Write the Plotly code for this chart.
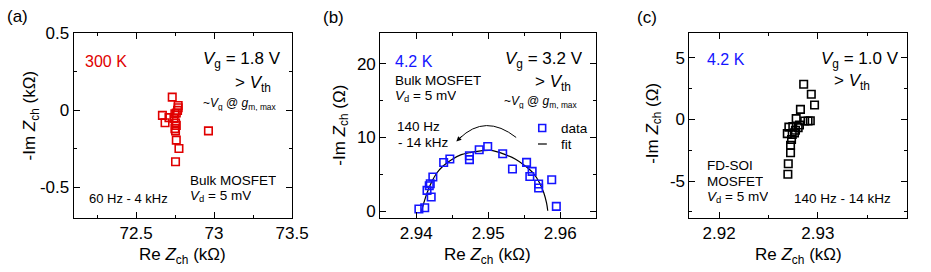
import plotly.graph_objects as go

# ---------------- data ----------------
# (a) 300 K bulk MOSFET, Re Z (kOhm) / -Im Z (kOhm)
a_re = [72.732, 72.770, 72.770, 72.766, 72.758, 72.749, 72.669, 72.711, 72.686,
        72.743, 72.753, 72.758, 72.749, 72.753, 72.758, 72.775, 72.753, 72.964]
a_im = [0.084, 0.030, 0.015, -0.002, -0.019, -0.024, -0.034, -0.049, -0.082,
        -0.056, -0.084, -0.099, -0.120, -0.135, -0.195, -0.249, -0.335, -0.135]

# (b) 4.2 K bulk MOSFET, Re Z (kOhm) / -Im Z (Ohm)
b_re = [2.94037, 2.94118, 2.94208, 2.94150, 2.94181, 2.94195, 2.94231, 2.94381,
        2.94467, 2.94739, 2.94739, 2.94875, 2.94993, 2.95201, 2.95337, 2.95533,
        2.95610, 2.95578, 2.95700, 2.95700, 2.95882, 2.95946]
b_im = [0.27, 0.45, 1.90, 2.80, 3.44, 3.71, 4.62, 6.60, 7.07, 7.52, 6.98, 8.33,
        8.78, 7.79, 5.71, 6.61, 5.39, 4.70, 3.67, 3.13, 4.26, 0.63]
b_fit_re = [2.94075, 2.94105, 2.94150, 2.94218, 2.94286, 2.94377, 2.94490, 2.94626,
            2.94762, 2.94921, 2.95034, 2.95102, 2.95238, 2.95374, 2.95510, 2.95623,
            2.95714, 2.95773, 2.95810, 2.95827]
b_fit_im = [0.04, 1.09, 2.45, 4.03, 5.17, 6.16, 6.98, 7.66, 7.97, 8.20, 8.24, 8.11,
            7.66, 7.07, 6.16, 5.17, 3.81, 2.45, 1.09, 0.04]

# (c) 4.2 K FD-SOI MOSFET, Re Z (kOhm) / -Im Z (Ohm)
c_re = [2.92856, 2.92933, 2.92966, 2.92823, 2.92780, 2.92866, 2.92900, 2.92923,
        2.92813, 2.92706, 2.92746, 2.92800, 2.92773, 2.92690, 2.92740, 2.92763,
        2.92733, 2.92723, 2.92723, 2.92700, 2.92696]
c_im = [2.85, 2.03, 1.16, 0.81, 0.06, -0.14, -0.14, -0.11, -0.46, -0.63, -0.59,
        -0.67, -0.89, -1.16, -1.22, -1.10, -1.63, -2.11, -2.71, -3.60, -4.45]

# ticks
a_xt = [72.5, 73, 73.5]; a_xl = ["72.5", "73", "73.5"]
a_yt = [-0.5, 0, 0.5]; a_yl = ["-0.5", "0", "0.5"]
b_xt = [2.94, 2.95, 2.96]; b_xl = ["2.94", "2.95", "2.96"]
b_yt = [0, 10, 20]; b_yl = ["0", "10", "20"]
c_xt = [2.92, 2.93]; c_xl = ["2.92", "2.93"]
c_yt = [-5, 0, 5]; c_yl = ["-5", "0", "5"]

RED = "#e00000"
BLUE = "#1414ff"
FONT = "Arial, Liberation Sans, sans-serif"

W, H = 931, 272
MT, MB = 33, 54
PH = H - MT - MB


def fx(p):
    return p / W


def fy(p):
    return (H - MB - p) / PH


fig = go.Figure()

mk = dict(symbol="square-open", size=7.5, line=dict(width=1.6))
fig.add_trace(go.Scatter(x=a_re, y=a_im, mode="markers", xaxis="x", yaxis="y",
                         marker=dict(color=RED, **mk), showlegend=False))
fig.add_trace(go.Scatter(x=b_fit_re, y=b_fit_im, mode="lines", xaxis="x2", yaxis="y2",
                         line=dict(color="black", width=1.2, shape="spline"), showlegend=False))
fig.add_trace(go.Scatter(x=b_re, y=b_im, mode="markers", xaxis="x2", yaxis="y2",
                         marker=dict(color=BLUE, **mk), showlegend=False))
fig.add_trace(go.Scatter(x=c_re, y=c_im, mode="markers", xaxis="x3", yaxis="y3",
                         marker=dict(color="black", **mk), showlegend=False))


def ax(domain, rng, tv, tt, mdt, anchor):
    return dict(domain=domain, range=rng, tickvals=tv, ticktext=tt, anchor=anchor,
                showline=True, linecolor="black", linewidth=1, mirror="ticks",
                ticks="inside", ticklen=6, tickcolor="black", tickwidth=1,
                showgrid=False, zeroline=False,
                tickfont=dict(size=17, color="black", family=FONT),
                minor=dict(dtick=mdt, ticks="inside", ticklen=3, tickcolor="black", showgrid=False))


da = [fx(75), fx(297.5)]
db = [fx(387.3), fx(607.3)]
dc = [fx(702.3), fx(923.7)]

fig.update_layout(
    width=W, height=H,
    margin=dict(l=0, r=0, t=MT, b=MB),
    paper_bgcolor="white", plot_bgcolor="white",
    font=dict(family=FONT, color="black"),
    xaxis=ax(da, [72.1, 73.5], a_xt, a_xl, 0.25, "y"),
    yaxis=ax([0, 1], [-0.7, 0.5], a_yt, a_yl, 0.25, "x"),
    xaxis2=ax(db, [2.935, 2.965], b_xt, b_xl, 0.005, "y2"),
    yaxis2=ax([0, 1], [-0.95, 24.2], b_yt, b_yl, 5, "x2"),
    xaxis3=ax(dc, [2.917, 2.939], c_xt, c_xl, 0.005, "y3"),
    yaxis3=ax([0, 1], [-8, 7], c_yt, c_yl, 2.5, "x3"),
)

anns = []


def txt(x, y, s, anchor="left", size=13.5, color="black", angle=0, h=None):
    d = dict(x=fx(x), y=fy(y), xref="paper", yref="paper", text=s, showarrow=False,
             xanchor=anchor, yanchor="middle", textangle=angle,
             font=dict(size=size, color=color, family=FONT))
    if h is not None:
        d["height"] = h
    anns.append(d)


VG = "<i>V</i><sub>g</sub>"
VTH = "> <i>V</i><sub>th</sub>"
VGM = "~<i>V</i><sub>g</sub> @ <i>g</i><sub>m, max</sub>"
VD = "<i>V</i><sub>d</sub> = 5 mV"
XT = "Re <i>Z</i><sub>ch</sub> (kΩ)"

# panel labels
txt(5, 16, "(a)", size=17)
txt(327, 17, "(b)", size=17)
txt(647, 17, "(c)", size=17)

# axis titles
txt(186, 256, XT, "center", 17)
txt(497, 256, XT, "center", 17)
txt(813, 256, XT, "center", 17)
txt(32, 115, "-Im <i>Z</i><sub>ch</sub> (kΩ)", "center", 17, angle=-90)
txt(347, 125, "-Im <i>Z</i><sub>ch</sub> (Ω)", "center", 17, angle=-90)
txt(666, 123, "-Im <i>Z</i><sub>ch</sub> (Ω)", "center", 17, angle=-90)

# panel (a)
txt(85, 61, "300 K", size=16, color=RED)
txt(288, 60, VG + " = 1.8 V", "right", 17, h=22)
txt(278, 84, VTH, "right", 17, h=20)
txt(284, 104, VGM, "right", 12, h=14)
txt(192, 180, "Bulk MOSFET", h=14)
txt(192, 196, VD, h=14)
txt(89, 198, "60 Hz - 4 kHz", size=13)

# panel (b)
txt(400, 61, "4.2 K", size=16, color=BLUE)
txt(596, 60, VG + " = 3.2 V", "right", 17, h=22)
txt(584, 83, VTH, "right", 17, h=20)
txt(591, 102, VGM, "right", 12, h=14)
txt(400, 80, "Bulk MOSFET", h=14)
txt(400, 96, VD, h=14)
txt(402, 126, "140 Hz", h=14)
txt(403, 142, "- 14 kHz", h=14)
txt(569, 128, "data", h=14)
txt(569, 144, "fit", h=14)

# panel (c)
txt(718, 165, "FD-SOI", h=14)
txt(718, 181, "MOSFET", h=14)
txt(718, 197, VD, h=14)
txt(718, 59, "4.2 K", size=16, color=BLUE)
txt(918, 60, VG + " = 1.0 V", "right", 17, h=22)
txt(888, 82, VTH, "right", 17, h=20)
txt(807, 198, "140 Hz - 14 kHz")

# arrowhead of curved arrow (b)
anns.append(dict(x=2.94558, y=9.46, xref="x2", yref="y2", ax=7, ay=-7, text="",
                 showarrow=True, arrowhead=2, arrowsize=1, arrowwidth=1, arrowcolor="black"))

shapes = [
    # curved arrow in (b)
    dict(type="path", xref="x2", yref="y2",
         path="M 2.95388,10.0 Q 2.94959,13.3 2.94600,9.85",
         line=dict(color="black", width=1)),
    # legend symbols (b)
    dict(type="rect", xref="paper", yref="paper",
         x0=fx(548.8), x1=fx(555.8), y0=fy(131.5), y1=fy(124.5),
         line=dict(color=BLUE, width=1.6)),
    dict(type="line", xref="paper", yref="paper",
         x0=fx(548), x1=fx(557), y0=fy(144), y1=fy(144),
         line=dict(color="black", width=1.2)),
]

fig.update_layout(annotations=anns, shapes=shapes)
fig.write_html("out.html")
